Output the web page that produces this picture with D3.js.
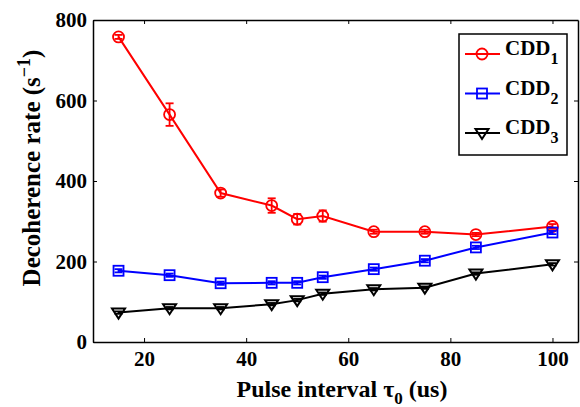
<!DOCTYPE html>
<html>
<head>
<meta charset="utf-8">
<script src="https://cdn.jsdelivr.net/npm/d3@7/dist/d3.min.js"></script>
<style>
  body { margin: 0; background: #fff; }
  svg { font-family: "Liberation Serif", "Times New Roman", serif; font-weight: bold; }
</style>
</head>
<body>
<svg id="chart" width="580" height="407"></svg>
<script>
// pulse intervals (us)
var tau = [15, 25, 35, 45, 50, 55, 65, 75, 85, 100];
var cdd1 = [758, 565, 370, 339, 305, 313, 274, 274, 267, 287];
var cdd1Err = [5, 28, 9, 18, 13, 14, 5, 5, 4, 6];
var cdd2 = [177, 166, 146, 147, 147, 161, 181, 202, 235, 272];
var cdd2Err = [4, 4, 4, 4, 4, 4, 4, 4, 4, 4];
var cdd3 = [73, 84, 84, 94, 104, 120, 131, 135, 170, 193];
var cdd3Err = [3, 3, 3, 3, 3, 3, 3, 3, 3, 3];
var xTicks = [20, 40, 60, 80, 100];
var yTicks = [0, 200, 400, 600, 800];

var svg = d3.select("#chart");
var margins = { top: 20, bottom: 65, left: 93, right: 2 };
var width = 580 - margins.left - margins.right;
var height = 407 - margins.top - margins.bottom;

var xScale = d3.scaleLinear().domain([10, 105]).range([0, width]);
var yScale = d3.scaleLinear().domain([0, 800]).range([height, 0]);

var g = svg.append("g").attr("transform", "translate(" + margins.left + "," + margins.top + ")");

// axes with inward ticks on all four sides
var xAxis = g.append("g").attr("transform", "translate(0," + height + ")")
    .call(d3.axisBottom(xScale).tickValues(xTicks).tickSizeInner(-4).tickSizeOuter(0).tickPadding(9));
var xTop = g.append("g")
    .call(d3.axisTop(xScale).tickValues(xTicks).tickSizeInner(-4).tickSizeOuter(0).tickFormat(""));
var yAxis = g.append("g")
    .call(d3.axisLeft(yScale).tickValues(yTicks).tickSizeInner(-4).tickSizeOuter(0).tickPadding(6));
var yRight = g.append("g").attr("transform", "translate(" + width + ",0)")
    .call(d3.axisRight(yScale).tickValues(yTicks).tickSizeInner(-4).tickSizeOuter(0).tickFormat(""));

g.selectAll(".domain").attr("stroke", "#000").attr("stroke-width", 1.5);
g.selectAll(".tick line").attr("stroke", "#000");
g.selectAll(".tick text").attr("fill", "#000")
    .style("font-family", "Liberation Serif").style("font-weight", "bold").style("font-size", "21px");

// axis labels
svg.append("text")
    .attr("x", 342).attr("y", 397)
    .attr("text-anchor", "middle")
    .style("font-size", "24px")
    .html('Pulse interval τ<tspan dy="7" font-size="17px">0</tspan><tspan dy="-7"> (us)</tspan>');

svg.append("text")
    .attr("transform", "translate(40,168) rotate(-90)")
    .attr("text-anchor", "middle")
    .style("font-size", "25px")
    .html('Decoherence rate (s<tspan dy="-10" font-size="18px">−1</tspan><tspan dy="10">)</tspan>');

var series = [
    { name: "1", values: cdd1, err: cdd1Err, color: "#ff0000", marker: "circle" },
    { name: "2", values: cdd2, err: cdd2Err, color: "#0000ff", marker: "square" },
    { name: "3", values: cdd3, err: cdd3Err, color: "#000000", marker: "triangle" }
];

var line = d3.line()
    .x(function(d) { return xScale(d[0]); })
    .y(function(d) { return yScale(d[1]); });

function drawMarker(sel, type, color) {
    if (type === "circle") {
        sel.append("circle").attr("r", 5.5).attr("fill", "none").attr("stroke", color).attr("stroke-width", 1.8);
    } else if (type === "square") {
        sel.append("rect").attr("x", -5).attr("y", -5).attr("width", 10).attr("height", 10)
            .attr("fill", "none").attr("stroke", color).attr("stroke-width", 1.8);
    } else {
        sel.append("path").attr("d", "M-6.5,-4L6.5,-4L0,6Z")
            .attr("fill", "none").attr("stroke", color).attr("stroke-width", 2);
    }
}

series.forEach(function(s) {
    var pts = tau.map(function(t, i) { return [t, s.values[i], s.err[i]]; });
    var sg = g.append("g");
    sg.append("path").datum(pts)
        .attr("d", line).attr("fill", "none").attr("stroke", s.color).attr("stroke-width", 2);

    var eb = sg.selectAll(".err").data(pts).enter().append("g").attr("class", "err")
        .attr("stroke", s.color).attr("stroke-width", 1.8);
    eb.append("line")
        .attr("x1", function(d) { return xScale(d[0]); })
        .attr("x2", function(d) { return xScale(d[0]); })
        .attr("y1", function(d) { return yScale(d[1] - d[2]); })
        .attr("y2", function(d) { return yScale(d[1] + d[2]); });
    [-1, 1].forEach(function(sign) {
        eb.append("line")
            .attr("x1", function(d) { return xScale(d[0]) - 4; })
            .attr("x2", function(d) { return xScale(d[0]) + 4; })
            .attr("y1", function(d) { return yScale(d[1] + sign * d[2]); })
            .attr("y2", function(d) { return yScale(d[1] + sign * d[2]); });
    });

    var mk = sg.selectAll(".mk").data(pts).enter().append("g").attr("class", "mk")
        .attr("transform", function(d) { return "translate(" + xScale(d[0]) + "," + yScale(d[1]) + ")"; });
    drawMarker(mk, s.marker, s.color);
});

// legend
var legend = svg.append("g").attr("transform", "translate(459,34)");
legend.append("rect").attr("width", 108).attr("height", 121)
    .attr("fill", "#fff").attr("stroke", "#000").attr("stroke-width", 1.5);
series.forEach(function(s, i) {
    var ly = 20 + i * 39.5;
    var row = legend.append("g").attr("transform", "translate(0," + ly + ")");
    row.append("line").attr("x1", 6).attr("x2", 41).attr("y1", 0).attr("y2", 0)
        .attr("stroke", s.color).attr("stroke-width", 2);
    var m = row.append("g").attr("transform", "translate(23,0)");
    drawMarker(m, s.marker, s.color);
    row.append("text").attr("x", 46).attr("y", 1).style("font-size", "21px")
        .html('CDD<tspan dy="9" font-size="16px">' + s.name + '</tspan>');
});
</script>
</body>
</html>
